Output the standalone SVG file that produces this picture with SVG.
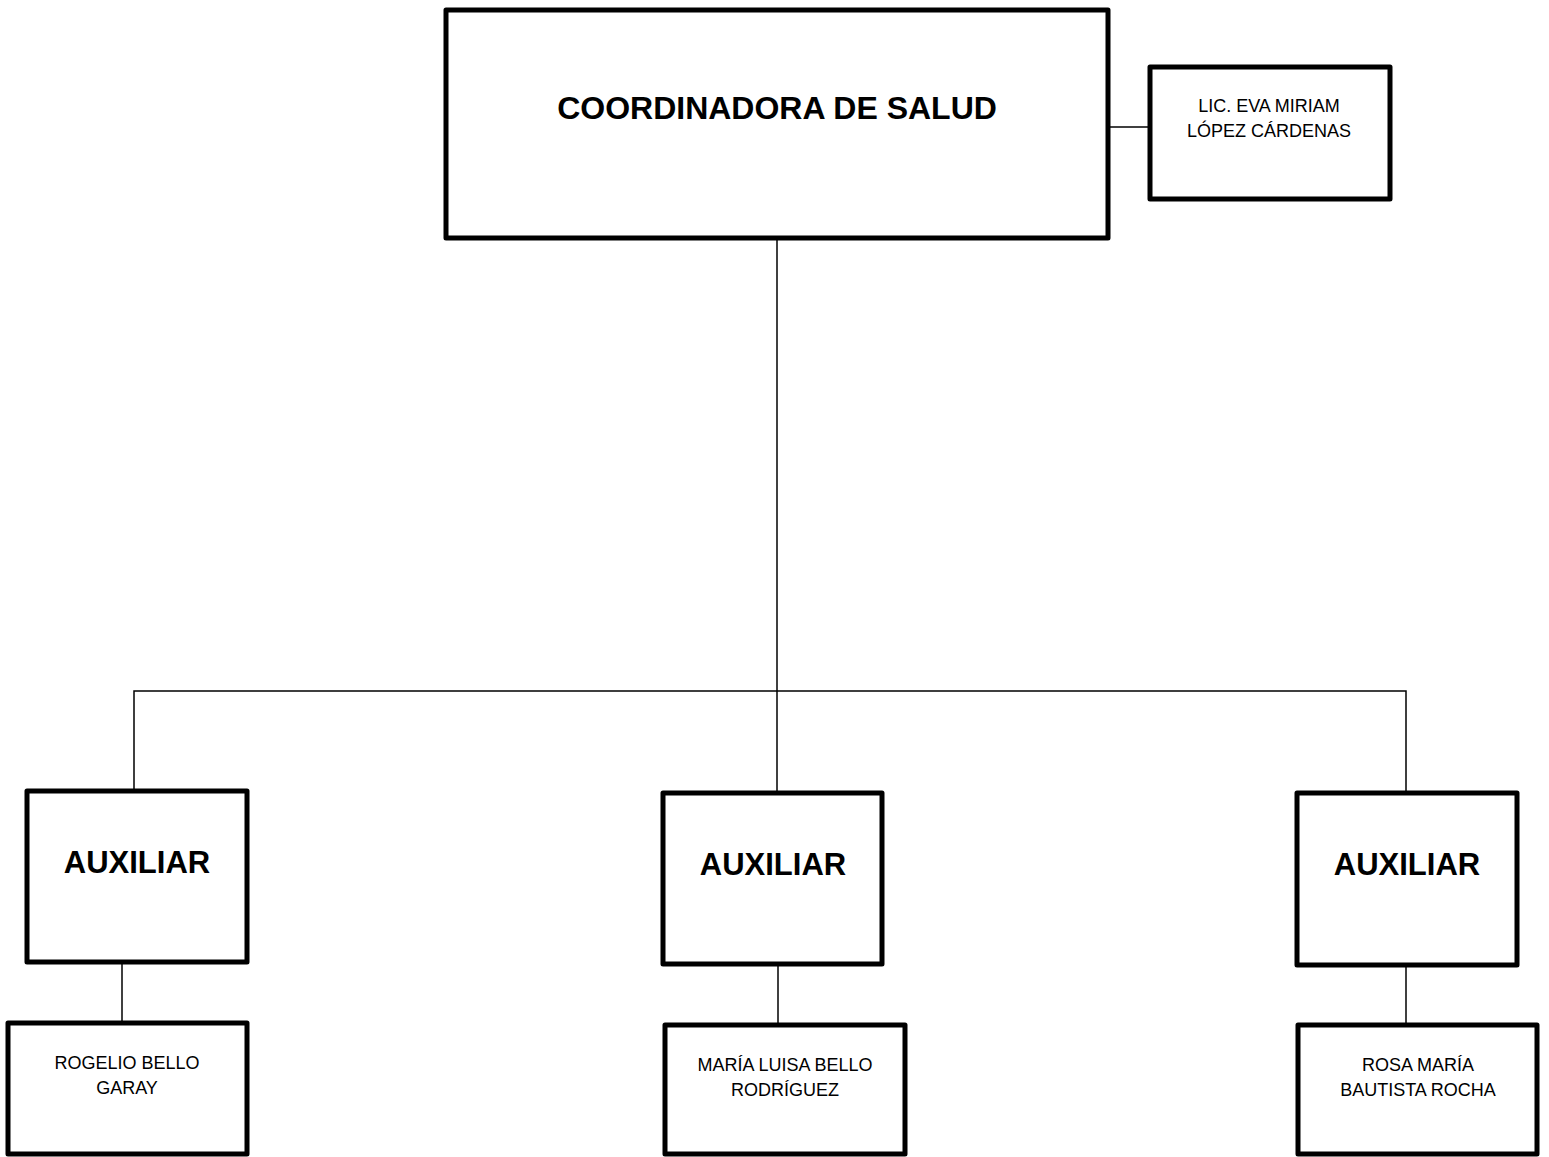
<svg xmlns="http://www.w3.org/2000/svg" width="1549" height="1157" viewBox="0 0 1549 1157">
<style>
.box{fill:#fff;stroke:#000;stroke-width:5;stroke-linejoin:round}
.ln{fill:none;stroke:#000;stroke-width:1.5}
.big{font-family:"Liberation Sans",Arial,sans-serif;font-weight:bold;text-anchor:middle;fill:#000}
.sm{font-family:"Liberation Sans",Arial,sans-serif;font-size:18px;text-anchor:middle;fill:#000}
</style>
<rect width="1549" height="1157" fill="#fff"/>
<g id="connectors">
<path class="ln" d="M1108 127H1150"/>
<path class="ln" d="M777 238V691"/>
<path class="ln" d="M134 791V691H1406V793"/>
<path class="ln" d="M777 691V793"/>
<path class="ln" d="M122 962V1023"/>
<path class="ln" d="M778 964V1025"/>
<path class="ln" d="M1406 965V1025"/>
</g>
<g id="coordinadora">
<rect class="box" x="446" y="10" width="662" height="228"/>
<text class="big" x="777" y="119" font-size="32">COORDINADORA DE SALUD</text>
</g>
<g id="eva">
<rect class="box" x="1150" y="67" width="240" height="132"/>
<text class="sm" x="1269" y="112">LIC. EVA MIRIAM</text>
<text class="sm" x="1269" y="137">LÓPEZ CÁRDENAS</text>
</g>
<g id="aux1">
<rect class="box" x="27" y="791" width="220" height="171"/>
<text class="big" x="137" y="873" font-size="31">AUXILIAR</text>
</g>
<g id="aux2">
<rect class="box" x="663" y="793" width="219" height="171"/>
<text class="big" x="773" y="875" font-size="31">AUXILIAR</text>
</g>
<g id="aux3">
<rect class="box" x="1297" y="793" width="220" height="172"/>
<text class="big" x="1407" y="875" font-size="31">AUXILIAR</text>
</g>
<g id="rogelio">
<rect class="box" x="8" y="1023" width="239" height="131"/>
<text class="sm" x="127" y="1069">ROGELIO BELLO</text>
<text class="sm" x="127" y="1094">GARAY</text>
</g>
<g id="maria">
<rect class="box" x="665" y="1025" width="240" height="129"/>
<text class="sm" x="785" y="1071">MARÍA LUISA BELLO</text>
<text class="sm" x="785" y="1096">RODRÍGUEZ</text>
</g>
<g id="rosa">
<rect class="box" x="1298" y="1025" width="239" height="129"/>
<text class="sm" x="1418" y="1071">ROSA MARÍA</text>
<text class="sm" x="1418" y="1096">BAUTISTA ROCHA</text>
</g>
</svg>
